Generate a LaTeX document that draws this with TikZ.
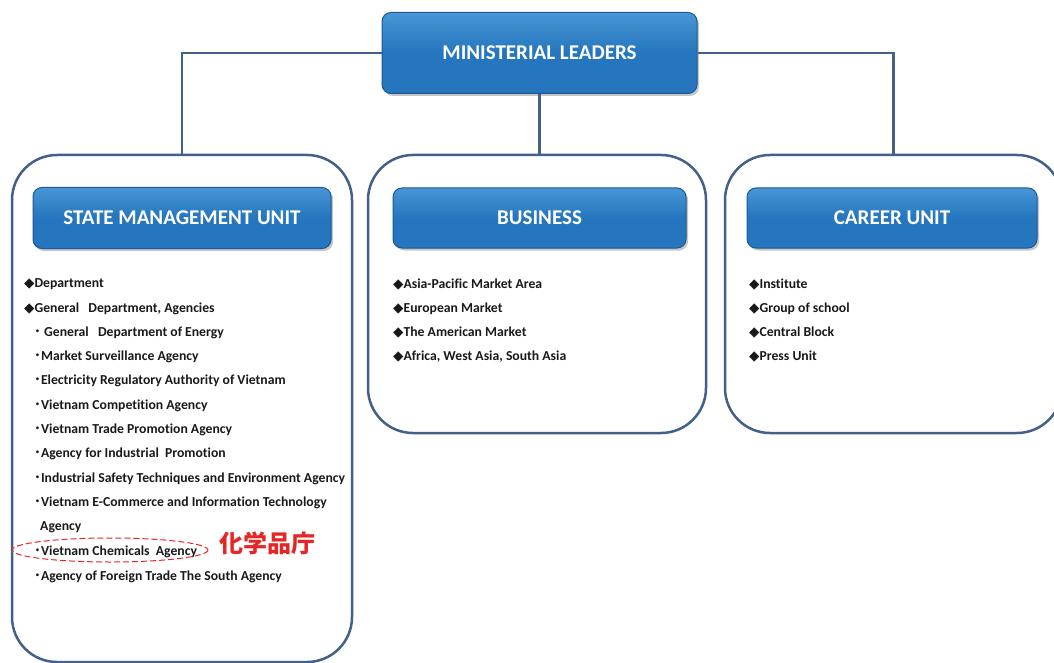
\documentclass[tikz,border=0pt]{standalone}
\usepackage{fontspec}
\setmainfont{Carlito}[Ligatures=NoCommon]
\newfontfamily\cjk{Noto Sans CJK JP}
\newfontfamily\symb{DejaVu Sans}
\usetikzlibrary{shadows}

\definecolor{unitblue}{RGB}{37,118,190}
\definecolor{unittop}{RGB}{72,150,214}
\definecolor{unitedge}{RGB}{28,88,150}
\definecolor{frameblue}{RGB}{66,96,138}
\definecolor{markred}{RGB}{230,38,38}

\newcommand{\dia}{{\symb\fontsize{13.5}{15}\selectfont ◆}}
\newcommand{\dotmark}{{\cjk ･}}

\tikzset{
  unitbox/.style={rectangle, rounded corners=9pt, top color=unittop, bottom color=unitblue, middle color=unitblue,
    draw=unitedge, line width=1pt, text=white, font=\bfseries\fontsize{21}{25}\selectfont,
    drop shadow={shadow xshift=2pt, shadow yshift=-2.5pt, opacity=0.45}},
  frame/.style={rectangle, rounded corners=45pt, draw=frameblue, line width=2.5pt},
  link/.style={draw=frameblue, line width=2.5pt},
  item/.style={anchor=west, inner sep=0pt, text=black!90, font=\bfseries\fontsize{13.7}{16}\selectfont},
}

\begin{document}
\begin{tikzpicture}[x=1pt, y=-1pt]
\useasboundingbox (0,0) rectangle (1054,663);
\clip (0,0) rectangle (1054,663);

% outer frames of the three units
\node[frame, minimum width=340pt, minimum height=507pt] (smuframe) at (182,408.5) {};
\node[frame, minimum width=338pt, minimum height=278pt] (bizframe) at (537,294) {};
\node[frame, minimum width=337pt, minimum height=278pt] (careerframe) at (893.5,294) {};

% headings
\node[unitbox, minimum width=315pt, minimum height=81pt] (leaders) at (539.5,53) {MINISTERIAL LEADERS};
\node[unitbox, minimum width=298pt, minimum height=61pt] (smu) at (182,218) {STATE MANAGEMENT UNIT};
\node[unitbox, minimum width=293pt, minimum height=60pt] (biz) at (539.5,218) {BUSINESS};
\node[unitbox, minimum width=290pt, minimum height=60pt] (career) at (892,218) {CAREER UNIT};

% connectors from the leaders down to the units
\draw[link] (leaders.west) -| (smuframe.north);
\draw[link] (leaders.east) -| (careerframe.north);
\draw[link] (leaders.south) -- (leaders.south |- bizframe.north);

% state management unit
\node[item] (s1) at (24,284.5) {\dia Department};
\node[item] (s2) at (24,308.5) {\dia General\ \ \ Department, Agencies};
\node[item] (s3) at (34,332.5) {\dotmark\ General\ \ \ Department of Energy};
\node[item] (s4) at (34,356.5) {\dotmark Market Surveillance Agency};
\node[item] (s5) at (34,380.5) {\dotmark Electricity Regulatory Authority of Vietnam};
\node[item] (s6) at (34,405.5) {\dotmark Vietnam Competition Agency};
\node[item] (s7) at (34,429.5) {\dotmark Vietnam Trade Promotion Agency};
\node[item] (s8) at (34,453.5) {\dotmark Agency for Industrial\ \ Promotion};
\node[item] (s9) at (34,478.5) {\dotmark Industrial Safety Techniques and Environment Agency};
\node[item] (s10) at (34,502.5) {\dotmark Vietnam E-Commerce and Information Technology};
\node[item] (s10b) at (40,527.5) {Agency};
\node[item] (s11) at (34,551.5) {\dotmark Vietnam Chemicals\ \ Agency};
\node[item] (s12) at (34,576.5) {\dotmark Agency of Foreign Trade The South Agency};

% marked agency
\draw[markred, dash pattern=on 6pt off 3pt, line width=1pt] (110,550) ellipse (98 and 12);
\node[anchor=west, inner sep=0pt, text=markred, font=\cjk\bfseries\fontsize{24}{27}\selectfont] (chemjp) at (219,543) {化学品庁};

% business
\node[item] (b1) at (393,284.5) {\dia Asia-Pacific Market Area};
\node[item] (b2) at (393,308.5) {\dia European Market};
\node[item] (b3) at (393,332.5) {\dia The American Market};
\node[item] (b4) at (393,356.5) {\dia Africa, West Asia, South Asia};

% career unit
\node[item] (c1) at (749,284.5) {\dia Institute};
\node[item] (c2) at (749,308.5) {\dia Group of school};
\node[item] (c3) at (749,332.5) {\dia Central Block};
\node[item] (c4) at (749,356.5) {\dia Press Unit};
\end{tikzpicture}
\end{document}
